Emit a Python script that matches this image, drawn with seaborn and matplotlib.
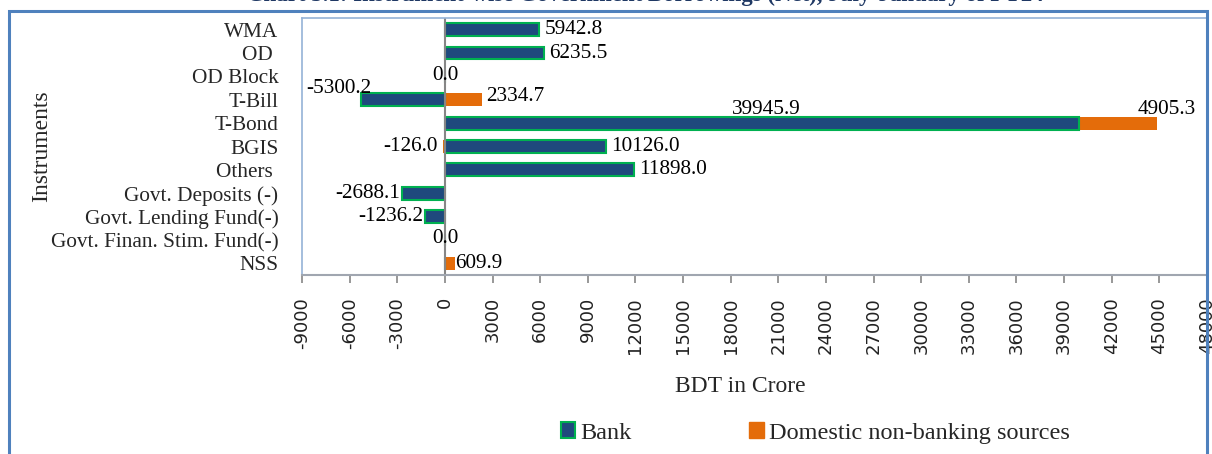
import numpy as np
import pandas as pd
import matplotlib
matplotlib.use("Agg")
import matplotlib.pyplot as plt
from matplotlib.patches import Rectangle, Patch
import seaborn as sns

# Values (BDT in crore); NaN = no data label shown
instruments = ["WMA", "OD ", "OD Block", "T-Bill", "T-Bond", "BGIS", "Others ",
               "Govt. Deposits (-)", "Govt. Lending Fund(-)",
               "Govt. Finan. Stim. Fund(-)", "NSS"]
bank = [5942.8, 6235.5, 0.0, -5300.2, 39945.9, 10126.0, 11898.0,
        -2688.1, -1236.2, 0.0, np.nan]
non_bank = [np.nan, np.nan, np.nan, 2334.7, 4905.3, -126.0, np.nan,
            np.nan, np.nan, np.nan, 609.9]
x_ticks = list(range(-9000, 48001, 3000))

BANK_COL = "#1F497D"
EDGE_COL = "#00B050"
ORANGE = "#E46C0A"
FRAME = "#4F81BD"
GREY = "#868686"
FS = 15.3


def main():
    sns.set_theme(style="white")
    plt.rcParams["font.family"] = ["Liberation Serif", "DejaVu Serif"]

    df = pd.DataFrame({"instrument": instruments, "bank": bank, "non_bank": non_bank})
    b = df["bank"].fillna(0)
    nb = df["non_bank"].fillna(0)
    # Excel stacks positives on positives and negatives on negatives
    same_sign = np.sign(b) == np.sign(nb)
    df["nb_start"] = np.where(same_sign, b, 0.0)
    df["nb_end"] = df["nb_start"] + nb
    df["bank_draw"] = b

    W, H = 1212, 454
    fig = plt.figure(figsize=(W / 100, H / 100), dpi=100)
    ax = fig.add_axes([302 / W, 1 - 275 / H, (1207 - 302) / W, (275 - 18) / H])

    # orange first (from 0 to the stacked end), bank drawn over it
    sns.barplot(data=df, x="nb_end", y="instrument", orient="h", color=ORANGE,
                saturation=1, width=0.55, ax=ax, linewidth=0)
    sns.barplot(data=df, x="bank_draw", y="instrument", orient="h", color=BANK_COL,
                saturation=1, width=0.55, ax=ax, edgecolor=EDGE_COL, linewidth=1.5)

    ax.set_xlim(x_ticks[0], x_ticks[-1])
    ax.set_ylim(len(instruments) - 0.5, -0.5)
    ax.axvline(0, color=GREY, lw=1.5, zorder=1)

    for s in ["top", "right", "left"]:
        ax.spines[s].set_color("#95B3D7")
        ax.spines[s].set_linewidth(1.2)
    ax.spines["bottom"].set_color("#A0A6B0")
    ax.spines["bottom"].set_linewidth(1.5)

    ax.set_xticks(x_ticks)
    ax.set_xticklabels([str(t) for t in x_ticks], rotation=90,
                       family=["DejaVu Sans"], fontsize=13)
    ax.tick_params(axis="x", bottom=True, length=6, width=1.2, color=GREY,
                   pad=10, labelcolor="#222222")
    ax.tick_params(axis="y", left=False, pad=11, labelsize=FS)
    ax.set_xlabel("BDT in Crore", fontsize=17)
    ax.xaxis.set_label_coords(0.484, -0.393)
    ax.set_ylabel("Instruments", fontsize=17)
    ax.yaxis.set_label_coords(-0.276, 0.5)

    def label(xv, yi, txt, ha, va="center", dx=0, dy=0):
        ax.annotate(txt, (xv, yi), xytext=(dx, dy), textcoords="offset pixels",
                    ha=ha, va=va, fontsize=FS, color="black")

    for i, row in df.iterrows():
        v = row["bank"]
        if not np.isnan(v):
            txt = f"{v:.1f}"
            if row["instrument"] == "T-Bill":
                label(v, i, txt, "center", "bottom", dx=-22, dy=2)
            elif row["instrument"] == "T-Bond":
                label(v / 2, i, txt, "center", "bottom", dx=4, dy=4)
            elif v > 0:
                label(v, i, txt, "left", dx=5)
            elif v < 0:
                label(v, i, txt, "right", dx=-2)
            else:
                label(0, i, txt, "center", dy=1)
        w = row["non_bank"]
        if not np.isnan(w):
            txt = f"{w:.1f}"
            end = row["nb_end"]
            if row["instrument"] == "T-Bond":
                label(end, i, txt, "center", "bottom", dx=10, dy=4)
            elif row["instrument"] == "T-Bill":
                label(end, i, txt, "left", dx=4, dy=3)
            elif w > 0:
                label(end, i, txt, "left", dx=1)
            else:
                label(end, i, txt, "right", dx=-5)

    handles = [Patch(facecolor=BANK_COL, edgecolor=EDGE_COL, linewidth=1.5, label="Bank"),
               Patch(facecolor=ORANGE, edgecolor=ORANGE, label="Domestic non-banking sources")]
    fig.legend(handles=handles, loc="center", bbox_to_anchor=(815 / W, 1 - 433 / H),
               ncol=2, frameon=False, fontsize=17.5, handlelength=0.6, handleheight=0.6,
               handletextpad=0.2, columnspacing=4.85)

    # outer chart frame
    fig.patches.append(Rectangle((9 / W, -0.05), (1207 - 9) / W, 1.05 - 11 / H,
                                 transform=fig.transFigure, fill=False,
                                 edgecolor=FRAME, linewidth=2.2))
    # title, clipped at the top as in the reference
    fig.text(645 / W, 1 - 1 / H,
             "Chart 5.1: Instrument-wise Government Borrowings (Net), July-January of FY24",
             ha="center", va="baseline", fontsize=16.5, fontweight="bold", color="#1F3864")

    fig.savefig("out.png", dpi=100)
    plt.close(fig)


if __name__ == "__main__":
    main()
